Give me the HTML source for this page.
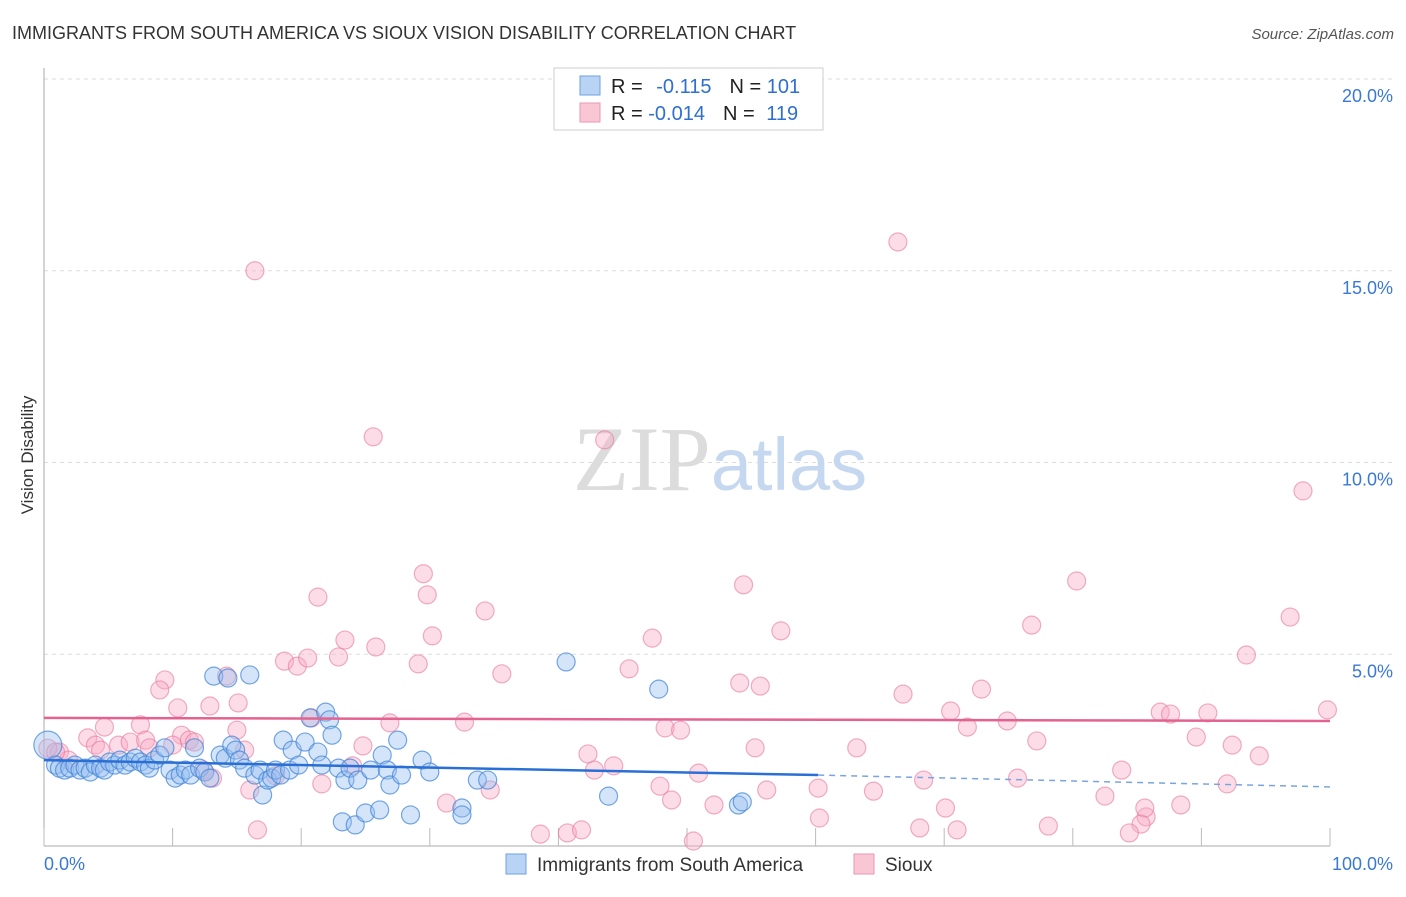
<!DOCTYPE html>
<html><head><meta charset="utf-8"><style>
body{margin:0;background:#fff;font-family:"Liberation Sans",sans-serif;}
svg text{font-family:"Liberation Sans",sans-serif;}
</style></head><body>
<svg id="chart" width="1406" height="892" xmlns="http://www.w3.org/2000/svg">
<text x="12" y="39" font-size="18" fill="#333">IMMIGRANTS FROM SOUTH AMERICA VS SIOUX VISION DISABILITY CORRELATION CHART</text>
<text x="1394" y="39" font-size="15" fill="#555" text-anchor="end" font-style="italic">Source: ZipAtlas.com</text>
<text transform="translate(33,455) rotate(-90)" font-size="17" fill="#333" text-anchor="middle">Vision Disability</text>
<g id="grid"></g>
<text x="720" y="490" font-size="92" text-anchor="middle"><tspan fill="#dcdcdc" font-family="Liberation Serif">ZIP</tspan><tspan fill="#c6d8ef" font-size="74">atlas</tspan></text>
<g id="axes"></g>
<g id="pts"></g>
<g id="trend"></g>
<g>
<rect x="554" y="68" width="269" height="62" fill="#fff" stroke="#ccc"/>
<rect x="580" y="76" width="20" height="19" fill="#b9d3f5" stroke="#6fa0e0"/>
<rect x="580" y="103" width="20" height="19" fill="#f9c6d6" stroke="#ea98b3"/>
<text x="611" y="93" font-size="20" fill="#222">R = <tspan fill="#2f6fd0" dx="8">-0.115</tspan><tspan dx="18" fill="#222">N = </tspan><tspan fill="#2f6fd0">101</tspan></text>
<text x="611" y="120" font-size="20" fill="#222">R = <tspan fill="#2f6fd0">-0.014</tspan><tspan dx="18" fill="#222">N = </tspan><tspan fill="#2f6fd0" dx="6">119</tspan></text>
</g>
<g>
<rect x="506" y="854" width="20" height="20" fill="#b9d3f5" stroke="#6fa0e0"/>
<text x="537" y="871" font-size="19" fill="#333">Immigrants from South America</text>
<rect x="854" y="854" width="20" height="20" fill="#f9c6d6" stroke="#ea98b3"/>
<text x="885" y="871" font-size="19" fill="#333">Sioux</text>
</g>
</svg>
<script>
const yTicks=[5,10,15,20];
const yTickLabels=["5.0%","10.0%","15.0%","20.0%"];
const xTickLabels=["0.0%","100.0%"];
const blueX=[0.3,0.9,1.2,1.6,2.0,2.4,2.8,3.2,3.6,4.0,4.4,4.7,5.1,5.5,5.9,6.3,6.7,7.1,7.5,7.9,8.2,8.6,9.0,9.4,9.8,10.2,10.6,11.0,11.4,11.7,12.1,12.5,12.9,13.2,13.7,14.1,14.3,14.6,14.9,15.2,15.6,16.0,16.4,16.8,17.0,17.4,17.7,18.0,18.4,18.6,19.1,19.3,19.8,20.3,20.7,21.3,21.6,21.9,22.2,22.4,22.9,23.2,23.4,23.8,24.2,24.4,25.0,25.4,26.1,26.3,26.7,26.9,27.5,27.8,28.5,29.4,30.0,32.5,32.5,33.7,34.5,40.6,43.9,47.8,54.0,54.3];
const blueY=[2.63,2.11,2.03,1.98,2.03,2.11,1.98,2.03,1.93,2.11,2.03,1.98,2.19,2.11,2.24,2.11,2.19,2.29,2.19,2.11,2.03,2.24,2.37,2.56,1.98,1.77,1.85,1.98,1.85,2.56,2.03,1.93,1.77,4.43,2.37,2.29,4.38,2.63,2.50,2.24,2.03,4.46,1.85,1.98,1.33,1.72,1.77,1.98,1.85,2.76,1.98,2.50,2.11,2.71,3.34,2.45,2.11,3.49,3.29,2.89,2.03,0.63,1.72,2.03,0.55,1.72,0.86,1.98,0.94,2.37,1.98,1.59,2.76,1.85,0.81,2.24,1.93,0.99,0.81,1.72,1.72,4.80,1.30,4.09,1.07,1.15];
const pinkX=[16.4,66.4,25.6,43.6,97.9,29.5,29.8,21.3,34.3,54.4,80.3,96.9,76.8,57.3,47.3,23.4,25.8,30.2,18.7,19.7,20.5,22.9,29.1,35.6,45.5,93.5,14.2,9.4,9.0,10.4,12.9,15.1,54.1,55.7,66.8,72.9,70.5,86.8,87.6,90.5,99.8,20.8,26.9,32.7,48.3,49.5,71.8,74.9,4.7,7.5,10.7,11.3,15.0,89.6,77.2,92.4,94.5,63.2,55.3,3.4,4.0,5.8,6.7,7.9,8.2,10.0,11.7,15.6,24.8,42.3,1.2,1.9,4.4,12.4,13.1,16.0,18.0,21.6,24.0,42.8,44.3,50.9,68.4,75.7,83.8,92.0,31.3,34.7,47.9,48.8,52.1,56.2,60.2,64.5,70.1,82.5,85.7,88.4,85.6,85.3,16.6,38.6,40.7,41.8,50.5,60.3,68.1,71.0,78.1,84.4,0.3,0.9];
const pinkY=[15.0,15.75,10.67,10.59,9.26,7.1,6.55,6.49,6.13,6.81,6.91,5.97,5.76,5.61,5.42,5.37,5.19,5.48,4.82,4.69,4.90,4.93,4.75,4.49,4.62,4.98,4.43,4.33,4.07,3.60,3.65,3.73,4.25,4.17,3.96,4.09,3.52,3.49,3.44,3.47,3.55,3.34,3.21,3.23,3.08,3.02,3.10,3.26,3.10,3.16,2.89,2.76,3.02,2.84,2.74,2.63,2.35,2.56,2.56,2.82,2.63,2.63,2.71,2.76,2.56,2.63,2.71,2.50,2.61,2.40,2.45,2.24,2.50,1.98,1.77,1.46,1.83,1.62,2.09,1.98,2.09,1.90,1.72,1.77,1.98,1.62,1.12,1.46,1.56,1.20,1.07,1.46,1.51,1.43,0.99,1.30,0.76,1.07,0.99,0.57,0.42,0.31,0.34,0.42,0.13,0.73,0.47,0.42,0.52,0.34,2.55,2.45];
const pinkTrend=[3.34,3.26];
const blueTrend=[2.24,1.85,1.54];
const NS="http://www.w3.org/2000/svg";
const X0=44,X1=1330,Y0=846,Y20=79;
const sx=v=>X0+(X1-X0)*v/100;
const sy=v=>Y0-(Y0-Y20)*v/20;
function mk(tag,attrs,parent){const e=document.createElementNS(NS,tag);for(const k in attrs)e.setAttribute(k,attrs[k]);parent.appendChild(e);return e;}
const grid=document.getElementById('grid'),axes=document.getElementById('axes'),pts=document.getElementById('pts'),trend=document.getElementById('trend');
yTicks.forEach((t,i)=>{
 const l=mk('line',{x1:X0,x2:1394,y1:sy(t),y2:sy(t),stroke:'#ddd','stroke-dasharray':'4,4'},grid);
 
 
 const tx=mk('text',{x:1393,y:sy(t)+23,'font-size':18,fill:'#3a78d4','text-anchor':'end'},grid);
 tx.textContent=yTickLabels[i];
 
 
});
const ax=mk('line',{x1:X0,x2:X1,y1:Y0,y2:Y0,stroke:'#aaa'},axes);


const ay=mk('line',{x1:X0,x2:X0,y1:68,y2:Y0,stroke:'#aaa'},axes);


for(let i=0;i<=10;i++){const t=mk('line',{x1:sx(i*10),x2:sx(i*10),y1:Y0,y2:828,stroke:'#bbb'},axes);
 
 }
[[0,'start',44],[100,'end',1393]].forEach((d,i)=>{const t=mk('text',{x:d[2],y:870,'font-size':18,fill:'#3a78d4','text-anchor':d[1]},axes);t.textContent=xTickLabels[i];
 
 });
pinkX.forEach((x,i)=>{const c=mk('circle',{cx:sx(x),cy:sy(pinkY[i]),r:9,fill:'rgba(247,170,195,0.4)',stroke:'rgba(232,120,160,0.6)','stroke-width':1.2},pts);
 
 });
blueX.forEach((x,i)=>{const c=mk('circle',{cx:sx(x),cy:sy(blueY[i]),r:i==0?14:9,fill:'rgba(150,190,240,0.4)',stroke:'rgba(60,130,215,0.7)','stroke-width':1.2},pts);
 
 });
const pl=mk('line',{x1:sx(0),x2:sx(100),y1:sy(pinkTrend[0]),y2:sy(pinkTrend[1]),stroke:'#e4628f','stroke-width':2.5},trend);


const bl=mk('line',{x1:sx(0),x2:sx(60.2),y1:sy(blueTrend[0]),y2:sy(blueTrend[1]),stroke:'#2a6fd6','stroke-width':2.5},trend);


const bd=mk('line',{x1:sx(60.2),x2:sx(100),y1:sy(blueTrend[1]),y2:sy(blueTrend[2]),stroke:'#7aa4e0','stroke-width':1.5,'stroke-dasharray':'6,5'},trend);


</script>
</body></html>
